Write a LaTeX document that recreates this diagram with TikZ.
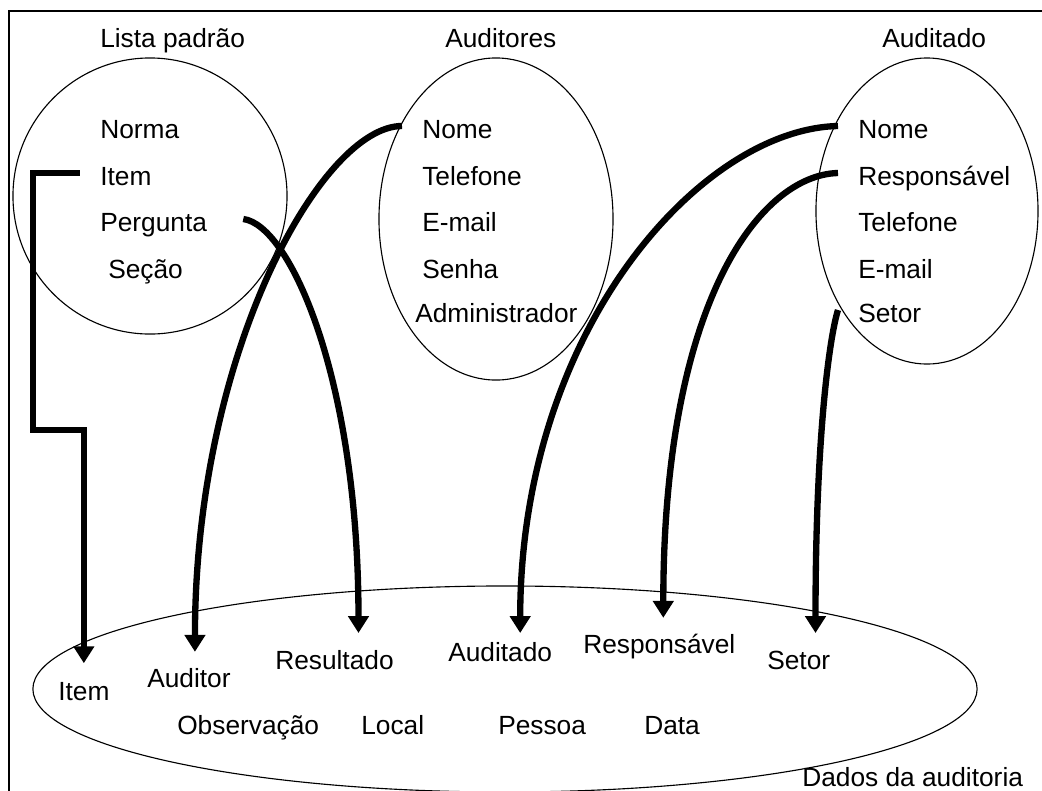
\documentclass[tikz,border=0pt]{standalone}
\usepackage{fontspec}
\setmainfont{Liberation Sans}
\usepackage{tikz}
\usetikzlibrary{positioning, shapes.geometric, arrows.meta}
\tikzset{campo/.style={anchor=base west, inner sep=0pt, font=\fontsize{18.7}{22}\selectfont}}
\tikzset{conj/.style={draw, ellipse, line width=0.8pt, inner sep=0pt}}
\tikzset{arr/.style={draw, -{Triangle[length=0.42cm, width=0.5cm]}, line width=4.5pt}}

\begin{document}
\begin{tikzpicture}[x=0.025cm, y=-0.025cm]
	\useasboundingbox (0,0) rectangle (1042,791);
	\draw[line width=0.8pt] (9,791) |- (1042,11);

	% conjuntos
	\node[conj, minimum width=6.85cm, minimum height=6.9cm] (lista) at (150,196) {};
	\node[conj, minimum width=5.85cm, minimum height=8.05cm] (audit) at (496,219) {};
	\node[conj, minimum width=5.55cm, minimum height=7.65cm] (audo) at (927,211) {};
	\node[conj, minimum width=23.6cm, minimum height=5.15cm] (dados) at (505,689) {};

	\node[campo] (t-lista) at (100,47) {Lista padrão};
	\node[campo] (t-audit) at (445,47) {Auditores};
	\node[campo] (t-audo) at (882,47) {Auditado};
	\node[campo] (t-dados) at (802,786) {Dados da auditoria};

	% Lista padrao
	\node[campo] (l-norma) at (100,138) {Norma};
	\node[campo] (l-item) at (100,185) {Item};
	\node[campo] (l-perg) at (100,231) {Pergunta};
	\node[campo] (l-secao) at (108,278) {Seção};

	% Auditores
	\node[campo] (a-nome) at (422,138) {Nome};
	\node[campo] (a-fone) at (422,185) {Telefone};
	\node[campo] (a-mail) at (422,231) {E-mail};
	\node[campo] (a-senha) at (422,278) {Senha};
	\node[campo] (a-adm) at (415,322) {Administrador};

	% Auditado
	\node[campo] (u-nome) at (858,138) {Nome};
	\node[campo] (u-resp) at (858,185) {Responsável};
	\node[campo] (u-fone) at (858,231) {Telefone};
	\node[campo] (u-mail) at (858,278) {E-mail};
	\node[campo] (u-setor) at (858,322) {Setor};

	% Dados da auditoria
	\node[campo] (d-item) at (58,700) {Item};
	\node[campo] (d-auditor) at (147,687) {Auditor};
	\node[campo] (d-res) at (275,669) {Resultado};
	\node[campo] (d-audo) at (448,661) {Auditado};
	\node[campo] (d-resp) at (583,653) {Responsável};
	\node[campo] (d-setor) at (767,669) {Setor};
	\node[campo] (d-obs) at (177,734) {Observação};
	\node[campo] (d-local) at (361,734) {Local};
	\node[campo] (d-pessoa) at (498,734) {Pessoa};
	\node[campo] (d-data) at (644,734) {Data};

	\coordinate (cotovelo) at (33,430);
	\draw[arr] ([shift={(-0.5cm,0.3cm)}]l-item.base west) -| (cotovelo)
		-| ([yshift=0.92cm]d-item.base);
	\draw[arr] ([shift={(-0.5cm,0.3cm)}]a-nome.base west)
		.. controls +(-80,0) and +(0,-300) .. ([shift={(0.15cm,0.88cm)}]d-auditor.base);
	\draw[arr] ([shift={(0.9cm,0.3cm)}]l-perg.base east)
		.. controls +(47,6) and +(0,-253) .. ([shift={(0.6cm,0.9cm)}]d-res.base);
	\draw[arr] ([shift={(-0.5cm,0.3cm)}]u-nome.base west)
		.. controls +(-137,3) and +(0,-303) .. ([shift={(0.5cm,0.7cm)}]d-audo.base);
	\draw[arr] ([shift={(-0.5cm,0.3cm)}]u-resp.base west)
		.. controls +(-77,2) and +(0,-318) .. ([shift={(0.1cm,0.88cm)}]d-resp.base);
	\draw[arr] ([shift={(-0.5cm,0.3cm)}]u-setor.base west)
		.. controls +(-8,25) and +(0,-200) .. ([shift={(0.42cm,0.9cm)}]d-setor.base);
\end{tikzpicture}
\end{document}
